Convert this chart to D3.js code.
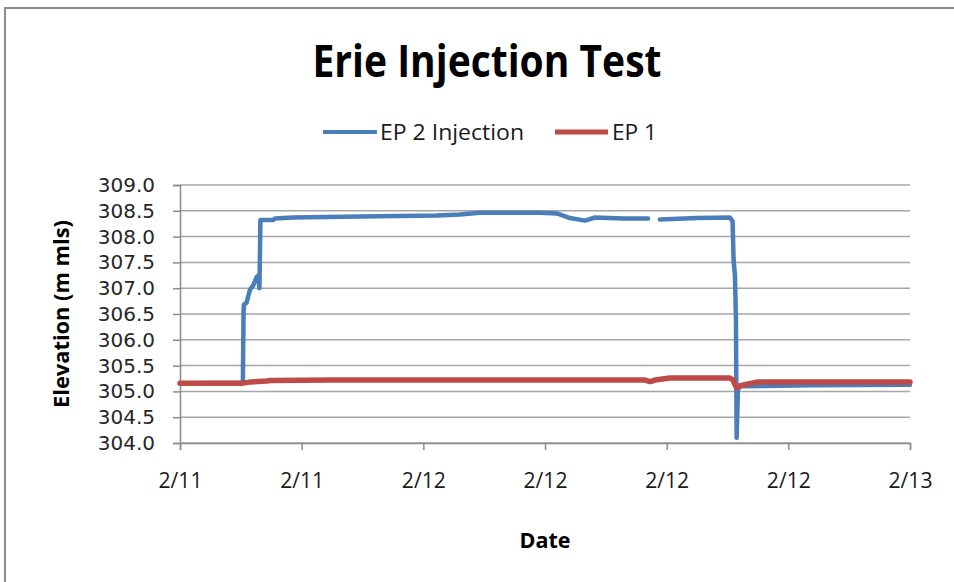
<!DOCTYPE html>
<html>
<head>
<meta charset="utf-8">
<script src="https://cdn.jsdelivr.net/npm/d3@7"></script>
<style>
  body { margin: 0; background: #fff; }
  svg { display: block; }
</style>
</head>
<body>
<div id="chart"></div>
<script>
// EP 2 Injection (blue) - null marks the logger gap
const ep2Times = [
  "2011-02-11T12:00", "2011-02-11T15:06", "2011-02-11T15:08", "2011-02-11T15:09",
  "2011-02-11T15:17", "2011-02-11T15:27", "2011-02-11T15:37", "2011-02-11T15:47",
  "2011-02-11T15:52", "2011-02-11T15:55", "2011-02-11T15:58", "2011-02-11T16:35",
  "2011-02-11T16:41", "2011-02-11T17:34", "2011-02-11T20:53", "2011-02-12T00:40",
  "2011-02-12T01:48", "2011-02-12T02:48", "2011-02-12T05:45", "2011-02-12T06:35",
  "2011-02-12T07:14", "2011-02-12T07:58", "2011-02-12T08:28", "2011-02-12T09:51",
  "2011-02-12T11:05", "2011-02-12T11:20", "2011-02-12T11:40", "2011-02-12T13:30",
  "2011-02-12T15:07", "2011-02-12T15:15", "2011-02-12T15:18", "2011-02-12T15:22",
  "2011-02-12T15:25", "2011-02-12T15:27", "2011-02-12T15:31", "2011-02-12T15:40",
  "2011-02-12T19:13", "2011-02-13T00:00"
];
const ep2Values = [
  305.16, 305.17, 306.50, 306.68,
  306.72, 306.97, 307.06, 307.22,
  307.25, 307.00, 308.32, 308.32,
  308.35, 308.37, 308.39, 308.41,
  308.43, 308.46, 308.46, 308.45,
  308.36, 308.31, 308.37, 308.35,
  308.35, null, 308.33, 308.36,
  308.37, 308.30, 307.55, 307.25,
  306.40, 304.10, 305.05, 305.10,
  305.12, 305.13
];

// EP 1 (red)
const ep1Times = [
  "2011-02-11T12:00", "2011-02-11T15:06", "2011-02-11T15:27", "2011-02-11T16:17",
  "2011-02-11T16:26", "2011-02-11T19:33", "2011-02-12T01:48", "2011-02-12T10:56",
  "2011-02-12T11:11", "2011-02-12T11:25", "2011-02-12T12:10", "2011-02-12T15:07",
  "2011-02-12T15:16", "2011-02-12T15:27", "2011-02-12T15:37", "2011-02-12T15:57",
  "2011-02-12T16:27", "2011-02-13T00:00"
];
const ep1Values = [
  305.16, 305.16, 305.18, 305.20,
  305.21, 305.22, 305.22, 305.22,
  305.19, 305.22, 305.26, 305.26,
  305.22, 305.07, 305.11, 305.14,
  305.18, 305.18
];

const yTicks = [304, 304.5, 305, 305.5, 306, 306.5, 307, 307.5, 308, 308.5, 309];
const xTickTimes = [
  "2011-02-11T12:00", "2011-02-11T18:00", "2011-02-12T00:00", "2011-02-12T06:00",
  "2011-02-12T12:00", "2011-02-12T18:00", "2011-02-13T00:00"
];
const seriesNames = ["EP 2 Injection", "EP 1"];
const seriesColors = ["#4a7ebb", "#be4b48"];

const width = 954, height = 582;
const plot = { left: 180, right: 910, top: 185, bottom: 443 };
const parse = d3.timeParse("%Y-%m-%dT%H:%M");
const fmt = d3.timeFormat("%-m/%-d");

const svg = d3.select("#chart").append("svg")
  .attr("width", width)
  .attr("height", height);

// outer chart frame
svg.append("rect")
  .attr("x", 5).attr("y", 8)
  .attr("width", 1000).attr("height", 700)
  .attr("fill", "#fff")
  .attr("stroke", "#8c8c8c")
  .attr("stroke-width", 2);

const x = d3.scaleTime()
  .domain([parse(xTickTimes[0]), parse(xTickTimes[xTickTimes.length - 1])])
  .range([plot.left, plot.right]);

const y = d3.scaleLinear()
  .domain([304, 309])
  .range([plot.bottom, plot.top]);

// horizontal gridlines
svg.append("g")
  .selectAll("line")
  .data(yTicks)
  .enter()
  .append("line")
  .attr("x1", plot.left).attr("x2", plot.right)
  .attr("y1", d => y(d)).attr("y2", d => y(d))
  .attr("stroke", "#a6a6a6")
  .attr("stroke-width", 1.5);

// y axis
const yAxis = svg.append("g")
  .attr("transform", "translate(" + plot.left + ",0)")
  .call(d3.axisLeft(y).tickValues(yTicks).tickFormat(d3.format(".1f")).tickSize(7).tickPadding(18));
yAxis.select(".domain").attr("stroke", "#8c8c8c").attr("stroke-width", 1.5);
yAxis.selectAll(".tick line").attr("stroke", "#8c8c8c").attr("stroke-width", 1.5);
yAxis.selectAll(".tick text")
  .attr("font-family", "DejaVu Sans")
  .attr("font-size", 20)
  .attr("fill", "#262626");

// x axis
const xAxis = svg.append("g")
  .attr("transform", "translate(0," + plot.bottom + ")")
  .call(d3.axisBottom(x).tickValues(xTickTimes.map(parse)).tickFormat(fmt).tickSize(7).tickPadding(22));
xAxis.select(".domain").attr("stroke", "#8c8c8c").attr("stroke-width", 1.5);
xAxis.selectAll(".tick line").attr("stroke", "#8c8c8c").attr("stroke-width", 1.5);
xAxis.selectAll(".tick text")
  .attr("font-family", "Open Sans")
  .attr("font-size", 22)
  .attr("fill", "#1a1a1a")
  .attr("textLength", 44)
  .attr("lengthAdjust", "spacingAndGlyphs");

const line = d3.line()
  .defined(d => d.v !== null)
  .x(d => x(d.t))
  .y(d => y(d.v));

const ep2 = ep2Times.map((t, i) => ({ t: parse(t), v: ep2Values[i] }));
const ep1 = ep1Times.map((t, i) => ({ t: parse(t), v: ep1Values[i] }));

svg.append("path")
  .datum(ep2)
  .attr("d", line)
  .attr("fill", "none")
  .attr("stroke", seriesColors[0])
  .attr("stroke-width", 4.5)
  .attr("stroke-linejoin", "round")
  .attr("stroke-linecap", "round");

svg.append("path")
  .datum(ep1)
  .attr("d", line)
  .attr("fill", "none")
  .attr("stroke", seriesColors[1])
  .attr("stroke-width", 5.5)
  .attr("stroke-linejoin", "round")
  .attr("stroke-linecap", "round");

// title
svg.append("text")
  .attr("x", 487).attr("y", 77)
  .attr("text-anchor", "middle")
  .attr("font-family", "Open Sans")
  .attr("font-weight", "bold")
  .attr("font-size", 44)
  .attr("textLength", 349)
  .attr("lengthAdjust", "spacingAndGlyphs")
  .text("Erie Injection Test");

// legend
const legend = [
  { x1: 323, x2: 377, tx: 380, tw: 144, w: 4 },
  { x1: 555, x2: 608, tx: 612, tw: 45, w: 5 }
];
legend.forEach((l, i) => {
  svg.append("line")
    .attr("x1", l.x1).attr("x2", l.x2)
    .attr("y1", 132).attr("y2", 132)
    .attr("stroke", seriesColors[i])
    .attr("stroke-width", l.w);
  svg.append("text")
    .attr("x", l.tx).attr("y", 140)
    .attr("font-family", "Open Sans")
    .attr("font-size", 21)
    .attr("fill", "#1a1a1a")
    .attr("textLength", l.tw)
    .attr("lengthAdjust", "spacingAndGlyphs")
    .text(seriesNames[i]);
});

// axis titles
svg.append("text")
  .attr("x", 545).attr("y", 548)
  .attr("text-anchor", "middle")
  .attr("font-family", "Open Sans")
  .attr("font-weight", "bold")
  .attr("font-size", 22)
  .attr("textLength", 51)
  .attr("lengthAdjust", "spacingAndGlyphs")
  .text("Date");

svg.append("text")
  .attr("transform", "translate(69,314) rotate(-90)")
  .attr("text-anchor", "middle")
  .attr("font-family", "Open Sans")
  .attr("font-weight", "bold")
  .attr("font-size", 21)
  .attr("textLength", 188)
  .attr("lengthAdjust", "spacingAndGlyphs")
  .text("Elevation (m mls)");
</script>
</body>
</html>
